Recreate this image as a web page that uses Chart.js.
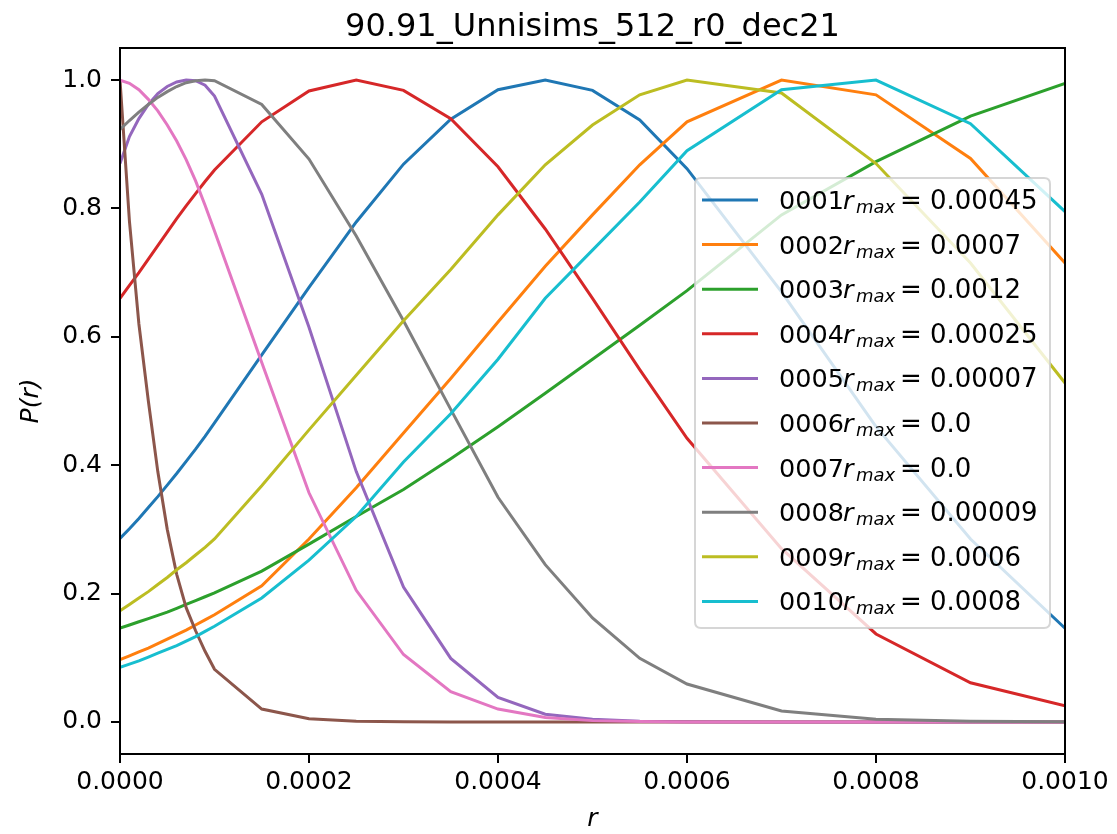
<!DOCTYPE html>
<html>
<head>
<meta charset="utf-8">
<script src="https://cdn.jsdelivr.net/npm/chart.js@4.4.1/dist/chart.umd.min.js"></script>
<style>
  html, body { margin: 0; padding: 0; background: #ffffff; }
  #wrap { width: 1117px; height: 834px; }
</style>
</head>
<body>
<div id="wrap"><canvas id="c" width="1117" height="834"></canvas></div>
<script>
// ---------------- data ----------------
const chartTitle = "90.91_Unnisims_512_r0_dec21";
const rValues = [0, 0.00001, 0.00002, 0.00003, 0.00004, 0.00005, 0.00006, 0.00007, 0.00008, 0.00009,
                 0.0001, 0.00015, 0.0002, 0.00025, 0.0003, 0.00035, 0.0004, 0.00045, 0.0005, 0.00055,
                 0.0006, 0.0007, 0.0008, 0.0009, 0.001];
const seriesCodes = ["0001","0002","0003","0004","0005","0006","0007","0008","0009","0010"];
const seriesRmax  = ["0.00045","0.0007","0.0012","0.00025","0.00007","0.0","0.0","0.00009","0.0006","0.0008"];

const p0001 = [0.286,0.301,0.317,0.334,0.351,0.369,0.387,0.406,0.425,0.445,0.466,0.572,0.677,0.779,0.869,0.939,0.985,1.0,0.984,0.938,0.862,0.670,0.460,0.285,0.146];
const p0002 = [0.097,0.103,0.109,0.115,0.122,0.129,0.136,0.143,0.151,0.159,0.167,0.212,0.285,0.365,0.450,0.535,0.623,0.710,0.790,0.868,0.935,1.0,0.977,0.878,0.715];
const p0003 = [0.146,0.151,0.156,0.161,0.166,0.171,0.177,0.183,0.189,0.195,0.201,0.235,0.277,0.320,0.362,0.410,0.460,0.512,0.565,0.618,0.672,0.790,0.873,0.944,0.995];
const p0004 = [0.660,0.680,0.700,0.721,0.742,0.763,0.784,0.804,0.823,0.842,0.860,0.935,0.983,1.0,0.984,0.940,0.865,0.768,0.660,0.549,0.442,0.270,0.137,0.061,0.025];
const p0005 = [0.870,0.912,0.940,0.962,0.979,0.990,0.997,1.0,0.999,0.992,0.975,0.822,0.615,0.390,0.210,0.099,0.038,0.012,0.004,0.001,0.0003,0,0,0,0];
const p0006 = [1.0,0.780,0.620,0.500,0.390,0.300,0.230,0.178,0.142,0.110,0.082,0.020,0.005,0.001,0.0003,0,0,0,0,0,0,0,0,0,0];
const p0007 = [1.0,0.995,0.985,0.970,0.952,0.930,0.905,0.876,0.843,0.805,0.765,0.560,0.357,0.205,0.105,0.047,0.020,0.007,0.002,0.0005,0,0,0,0,0];
const p0008 = [0.923,0.937,0.950,0.962,0.973,0.982,0.990,0.996,0.999,1.0,0.999,0.962,0.877,0.757,0.625,0.487,0.350,0.245,0.162,0.099,0.059,0.017,0.004,0.001,0.0002];
const p0009 = [0.173,0.183,0.193,0.203,0.214,0.225,0.237,0.248,0.260,0.272,0.285,0.368,0.455,0.540,0.625,0.705,0.790,0.868,0.930,0.977,1.0,0.980,0.870,0.715,0.528];
const p0010 = [0.085,0.090,0.095,0.101,0.107,0.113,0.119,0.126,0.133,0.141,0.149,0.193,0.252,0.320,0.405,0.480,0.565,0.660,0.735,0.810,0.890,0.985,1.0,0.932,0.795];

const allSeries = [p0001,p0002,p0003,p0004,p0005,p0006,p0007,p0008,p0009,p0010];
const xTicks = [0, 0.0002, 0.0004, 0.0006, 0.0008, 0.001];
const yTicks = [0.0, 0.2, 0.4, 0.6, 0.8, 1.0];
const colors = ["#1f77b4","#ff7f0e","#2ca02c","#d62728","#9467bd","#8c564b","#e377c2","#7f7f7f","#bcbd22","#17becf"];

// ---------------- chart ----------------
const FONT = "'DejaVu Sans', sans-serif";

const datasets = allSeries.map((vals, i) => ({
  label: seriesCodes[i] + " r_max = " + seriesRmax[i],
  code: seriesCodes[i],
  rmax: seriesRmax[i],
  data: vals.map((v, k) => ({x: rValues[k], y: v})),
  borderColor: colors[i],
  backgroundColor: colors[i],
  borderWidth: 3,
  pointRadius: 0,
  tension: 0,
  fill: false,
  order: allSeries.length - i
}));

const bgPlugin = {
  id: 'bg',
  beforeDraw(chart) {
    const ctx = chart.ctx;
    ctx.save();
    ctx.fillStyle = '#ffffff';
    ctx.fillRect(0, 0, chart.width, chart.height);
    ctx.restore();
  },
  afterDraw(chart) {
    // title centred over the plot area
    const ctx = chart.ctx;
    const a = chart.chartArea;
    ctx.save();
    ctx.fillStyle = '#000000';
    ctx.font = "32px " + FONT;
    ctx.textAlign = 'center';
    ctx.textBaseline = 'alphabetic';
    ctx.fillText(chartTitle, (a.left + a.right) / 2, 36);
    ctx.restore();
  }
};

const framePlugin = {
  id: 'frameAndLegend',
  afterDatasetsDraw(chart) {
    const ctx = chart.ctx;
    const a = chart.chartArea;
    ctx.save();
    // axes frame
    ctx.strokeStyle = '#000000';
    ctx.lineWidth = 2;
    ctx.strokeRect(a.left, a.top, a.right - a.left, a.bottom - a.top);

    // legend
    const lx = 695, ly = 178, lw = 355, lh = 450, rad = 6;
    ctx.beginPath();
    ctx.moveTo(lx + rad, ly);
    ctx.lineTo(lx + lw - rad, ly);
    ctx.quadraticCurveTo(lx + lw, ly, lx + lw, ly + rad);
    ctx.lineTo(lx + lw, ly + lh - rad);
    ctx.quadraticCurveTo(lx + lw, ly + lh, lx + lw - rad, ly + lh);
    ctx.lineTo(lx + rad, ly + lh);
    ctx.quadraticCurveTo(lx, ly + lh, lx, ly + lh - rad);
    ctx.lineTo(lx, ly + rad);
    ctx.quadraticCurveTo(lx, ly, lx + rad, ly);
    ctx.closePath();
    ctx.fillStyle = 'rgba(255,255,255,0.8)';
    ctx.fill();
    ctx.strokeStyle = 'rgba(204,204,204,0.8)';
    ctx.lineWidth = 2;
    ctx.stroke();

    const ds = chart.data.datasets;
    const rowH = 44.6;
    ctx.textBaseline = 'alphabetic';
    ctx.textAlign = 'left';
    ds.forEach((d, i) => {
      const cy = 200 + i * rowH;
      ctx.strokeStyle = d.borderColor;
      ctx.lineWidth = 3;
      ctx.beginPath();
      ctx.moveTo(702, cy);
      ctx.lineTo(758, cy);
      ctx.stroke();

      const base = cy + 9;
      const x0 = 779;
      ctx.fillStyle = '#000000';
      ctx.font = "25.5px " + FONT;
      ctx.fillText(d.code, x0, base);
      ctx.font = "italic 25.5px " + FONT;
      ctx.fillText("r", x0 + 64, base);
      ctx.font = "italic 18px " + FONT;
      ctx.fillText("max", x0 + 77, base + 4);
      ctx.font = "26px " + FONT;
      ctx.fillText("=", x0 + 121, base);
      ctx.font = "26px " + FONT;
      ctx.fillText(d.rmax, x0 + 151, base);
    });
    ctx.restore();
  }
};

new Chart(document.getElementById('c'), {
  type: 'line',
  data: { datasets },
  plugins: [bgPlugin, framePlugin],
  options: {
    responsive: false,
    animation: false,
    devicePixelRatio: 1,
    layout: { padding: { left: 0, right: 52, top: 48, bottom: 0 } },
    plugins: {
      legend: { display: false },
      tooltip: { enabled: false },
      title: { display: false }
    },
    scales: {
      x: {
        type: 'linear',
        min: 0,
        max: 0.001,
        afterBuildTicks: s => { s.ticks = xTicks.map(v => ({ value: v })); },
        afterFit: s => { s.height = 80; },
        ticks: {
          callback: v => Number(v).toFixed(4),
          color: '#000000',
          font: { family: FONT, size: 25 },
          padding: 4,
          maxRotation: 0,
          autoSkip: false
        },
        grid: { display: true, drawOnChartArea: false, drawTicks: true, tickLength: 9, color: '#000000', lineWidth: 2 },
        border: { display: false },
        title: {
          display: true,
          text: 'r',
          color: '#000000',
          font: { family: FONT, size: 25, style: 'italic' },
          padding: { top: 0, bottom: 0 }
        }
      },
      y: {
        type: 'linear',
        min: -0.05,
        max: 1.05,
        afterBuildTicks: s => { s.ticks = yTicks.map(v => ({ value: v })); },
        afterFit: s => { s.width = 120; },
        ticks: {
          callback: v => Number(v).toFixed(1),
          color: '#000000',
          font: { family: FONT, size: 25 },
          padding: 9
        },
        grid: { display: true, drawOnChartArea: false, drawTicks: true, tickLength: 9, color: '#000000', lineWidth: 2 },
        border: { display: false },
        title: {
          display: true,
          text: 'P(r)',
          color: '#000000',
          font: { family: FONT, size: 25, style: 'italic' },
          padding: { top: 16, bottom: 0 }
        }
      }
    }
  }
});
</script>
</body>
</html>
